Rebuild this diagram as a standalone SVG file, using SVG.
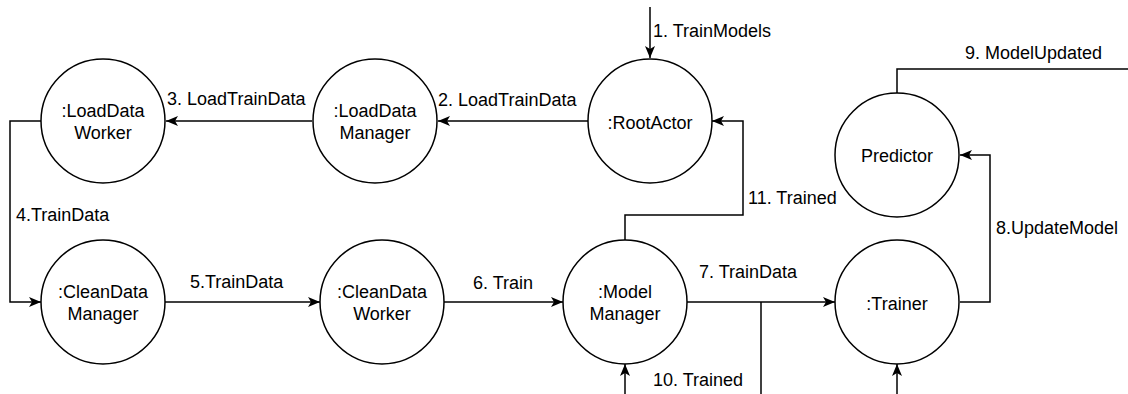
<svg xmlns="http://www.w3.org/2000/svg" width="1128" height="394" viewBox="0 0 1128 394">
  <style>
    .node circle { fill: #ffffff; stroke: #000000; stroke-width: 1.5; }
    .node text, .label { font-family: "Liberation Sans", Arial, Helvetica, sans-serif; font-size: 18px; fill: #000000; }
    .node text { text-anchor: middle; }
    .edge { fill: none; stroke: #000000; stroke-width: 1.5; }
    .arrow { marker-end: url(#head); }
  </style>
  <defs>
    <marker id="head" markerUnits="userSpaceOnUse" markerWidth="12" markerHeight="10" viewBox="0 0 12 10" refX="12" refY="5" orient="auto">
      <path d="M12,5 L0,0 L3,5 L0,10 Z" fill="#000000"/>
    </marker>
  </defs>
  <rect width="1128" height="394" fill="#ffffff"/>

  <!-- connectors -->
  <g id="connectors">
    <path class="edge arrow" d="M650,7 L650,58"/>
    <path class="edge arrow" d="M588,121 L438,121"/>
    <path class="edge arrow" d="M312,121 L166,121"/>
    <path class="edge arrow" d="M41,121 L10,121 L10,302 L41,302"/>
    <path class="edge arrow" d="M165,302 L320,302"/>
    <path class="edge arrow" d="M444,302 L563,302"/>
    <path class="edge arrow" d="M687,302 L835,302"/>
    <path class="edge" d="M761,302 L761,394"/>
    <path class="edge arrow" d="M960,302 L990,302 L990,155 L960,155"/>
    <path class="edge" d="M897,93 L897,69 L1128,69"/>
    <path class="edge arrow" d="M625,394 L625,364"/>
    <path class="edge arrow" d="M625,240 L625,215 L743,215 L743,121 L712,121"/>
    <path class="edge arrow" d="M897,394 L897,364"/>

    <text class="label" x="653" y="37">1. TrainModels</text>
    <text class="label" x="438" y="106">2. LoadTrainData</text>
    <text class="label" x="167" y="105">3. LoadTrainData</text>
    <text class="label" x="16" y="221">4.TrainData</text>
    <text class="label" x="190" y="288">5.TrainData</text>
    <text class="label" x="473" y="289">6. Train</text>
    <text class="label" x="699" y="278">7. TrainData</text>
    <text class="label" x="996" y="234">8.UpdateModel</text>
    <text class="label" x="965" y="59">9. ModelUpdated</text>
    <text class="label" x="653" y="386">10. Trained</text>
    <text class="label" x="748" y="204">11. Trained</text>
  </g>

  <!-- actors -->
  <g id="load-data-worker" class="node">
    <circle cx="103" cy="121" r="62"/>
    <text x="103" y="117">:LoadData</text>
    <text x="103" y="139">Worker</text>
  </g>
  <g id="load-data-manager" class="node">
    <circle cx="375" cy="121" r="62"/>
    <text x="375" y="117">:LoadData</text>
    <text x="375" y="139">Manager</text>
  </g>
  <g id="root-actor" class="node">
    <circle cx="650" cy="121" r="62"/>
    <text x="650" y="129">:RootActor</text>
  </g>
  <g id="predictor" class="node">
    <circle cx="897" cy="155" r="62"/>
    <text x="897" y="162">Predictor</text>
  </g>
  <g id="clean-data-manager" class="node">
    <circle cx="103" cy="302" r="62"/>
    <text x="103" y="298">:CleanData</text>
    <text x="103" y="320">Manager</text>
  </g>
  <g id="clean-data-worker" class="node">
    <circle cx="382" cy="302" r="62"/>
    <text x="382" y="298">:CleanData</text>
    <text x="382" y="320">Worker</text>
  </g>
  <g id="model-manager" class="node">
    <circle cx="625" cy="302" r="62"/>
    <text x="625" y="298">:Model</text>
    <text x="625" y="320">Manager</text>
  </g>
  <g id="trainer" class="node">
    <circle cx="897" cy="302" r="62"/>
    <text x="897" y="310">:Trainer</text>
  </g>
</svg>
